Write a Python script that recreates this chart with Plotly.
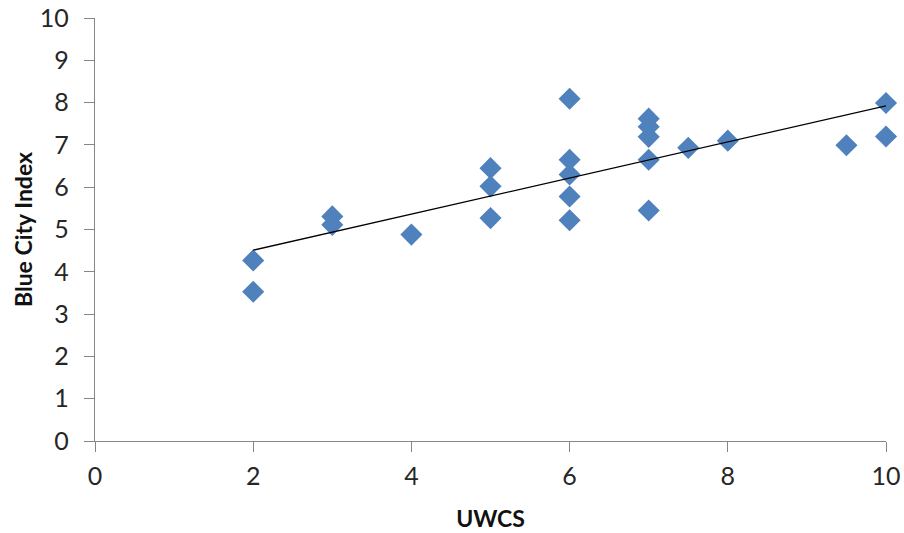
import numpy as np
import plotly.graph_objects as go

# Data
uwcs = [2, 2, 3, 3, 4, 5, 5, 5, 6, 6, 6, 6, 6, 7, 7, 7, 7, 7, 7.5, 8, 9.5, 10, 10]
blue_city_index = [4.27, 3.53, 5.31, 5.11, 4.88, 6.45, 6.02, 5.27,
                   8.09, 6.65, 6.30, 5.78, 5.22,
                   7.62, 7.43, 7.19, 6.65, 5.45,
                   6.93, 7.10, 6.99, 7.99, 7.20]
x_ticks = [0, 2, 4, 6, 8, 10]
y_ticks = [0, 1, 2, 3, 4, 5, 6, 7, 8, 9, 10]

# Linear trend line (least squares fit of the data)
slope, intercept = np.polyfit(uwcs, blue_city_index, 1)
trend_x = [min(uwcs), max(uwcs)]
trend_y = [slope * v + intercept for v in trend_x]

FONT = "Lato"
AXIS_COLOR = "#868686"
TEXT_COLOR = "#262626"

fig = go.Figure()
fig.add_trace(go.Scatter(
    x=uwcs, y=blue_city_index, mode="markers",
    marker=dict(symbol="diamond", size=17, color="#4F81BD", line=dict(width=0)),
    showlegend=False, hoverinfo="x+y", cliponaxis=False))
fig.add_trace(go.Scatter(
    x=trend_x, y=trend_y, mode="lines",
    line=dict(color="black", width=1.3),
    showlegend=False, hoverinfo="skip"))

fig.update_layout(
    width=904, height=533,
    margin=dict(l=95, r=18, t=18, b=92),
    paper_bgcolor="white", plot_bgcolor="white",
    font=dict(family=FONT, color=TEXT_COLOR),
)
fig.update_xaxes(
    range=[0, 10], tickvals=x_ticks, ticktext=[str(v) for v in x_ticks],
    showgrid=False, zeroline=False, automargin=False,
    showline=True, linecolor=AXIS_COLOR, linewidth=1.3,
    ticks="outside", ticklen=10, tickcolor=AXIS_COLOR, tickwidth=1.3,
    tickfont=dict(family=FONT, size=25, color=TEXT_COLOR),
    ticklabelstandoff=3, ticklabeloverflow="allow",
    title=dict(text="<b>UWCS</b>", font=dict(family=FONT, size=23, color="#111111"), standoff=21),
)
fig.update_yaxes(
    range=[0, 10], tickvals=y_ticks, ticktext=[str(v) for v in y_ticks],
    showgrid=False, zeroline=False, automargin=False,
    showline=True, linecolor=AXIS_COLOR, linewidth=1.3,
    ticks="outside", ticklen=10, tickcolor=AXIS_COLOR, tickwidth=1.3,
    tickfont=dict(family=FONT, size=25, color=TEXT_COLOR),
    ticklabelstandoff=10, ticklabeloverflow="allow",
    title=dict(text="<b>Blue City Index</b>", font=dict(family=FONT, size=23, color="#111111"), standoff=0),
)

# remove the default 8px page margin so the figure fills the window exactly
fig.write_html("out.html", config={"displayModeBar": False},
               post_script="document.body.style.margin='0';")
